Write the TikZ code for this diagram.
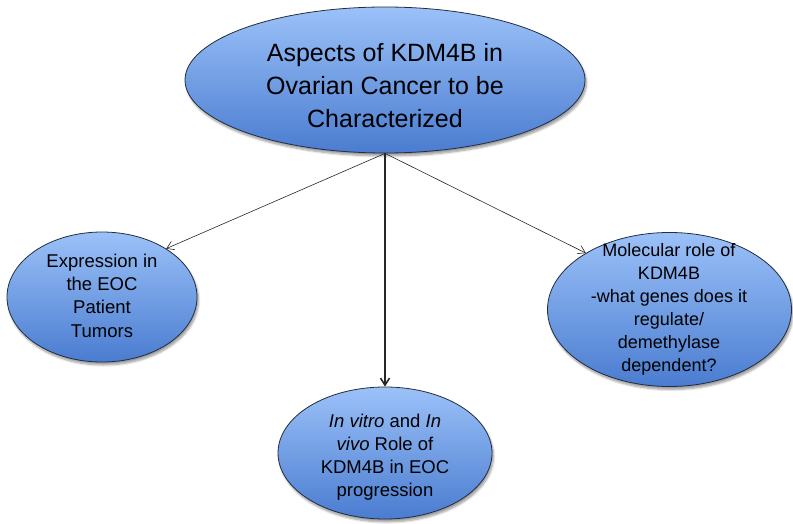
\documentclass[tikz,border=0pt]{standalone}
\usepackage{fontspec}
\setmainfont{Liberation Sans}
\usetikzlibrary{arrows.meta,shadows.blur,shapes.geometric}
\definecolor{elltop}{RGB}{155,193,248}
\definecolor{ellbot}{RGB}{74,124,208}
\definecolor{ellline}{RGB}{35,45,65}
\begin{document}
\begin{tikzpicture}[x=1pt,y=-1pt,
  bubble/.style={ellipse, draw=ellline, line width=0.8pt, top color=elltop, bottom color=ellbot,
    inner sep=0pt, blur shadow={shadow xshift=1.5pt, shadow yshift=-3pt, shadow blur steps=6, shadow opacity=40}},
  txt/.style={align=center, inner sep=0pt, text=black},
  arr/.style={-{Straight Barb[length=7pt,width=9pt]}, line width=0.6pt, draw=black!85}]
\useasboundingbox (0,0) rectangle (793,524);
\node[bubble, minimum width=400pt, minimum height=146pt] (top) at (385,80) {};
\node[bubble, minimum width=190pt, minimum height=130pt] (left) at (102,297) {};
\node[bubble, minimum width=244pt, minimum height=154pt] (right) at (669.5,309.5) {};
\node[bubble, minimum width=214pt, minimum height=132pt] (bottom) at (385,453) {};
\node[txt, font=\fontsize{25}{33}\selectfont] (ttop) at (385,85.5) {Aspects of KDM4B in\\Ovarian Cancer to be\\Characterized};
\node[txt, font=\fontsize{18.5}{23.3}\selectfont] (tleft) at (102,295.5) {Expression in\\the EOC\\Patient\\Tumors};
\node[txt, font=\fontsize{18}{23}\selectfont] (tright) at (669,309.5) {Molecular role of\\KDM4B\\-what genes does it\\regulate/\\demethylase\\dependent?};
\node[txt, font=\fontsize{18.5}{23}\selectfont] (tbottom) at (385,457) {\textit{In vitro} and \textit{In}\\\textit{vivo} Role of\\KDM4B in EOC\\progression};
\draw[arr] (top.south) -- (left.37);
\draw[arr] (top.south) -- (right.146);
\draw[arr, line width=1.6pt] (top.south) -- (bottom.north);
\end{tikzpicture}
\end{document}
